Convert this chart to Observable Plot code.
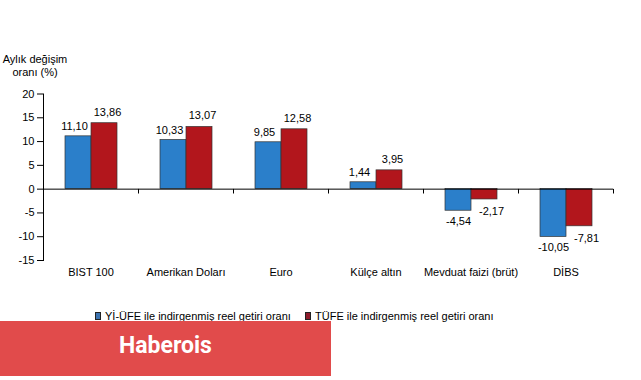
<!DOCTYPE html>
<html>
<head>
<meta charset="utf-8">
<script src="https://cdn.jsdelivr.net/npm/d3@7"></script>
<script src="https://cdn.jsdelivr.net/npm/@observablehq/plot@0.6"></script>
<style>
  html, body { margin: 0; padding: 0; background: #fff; }
  #wrap { position: relative; width: 641px; height: 380px; overflow: hidden; font-family: "Liberation Sans", Arial, sans-serif; }
  #wrap svg { position: absolute; left: 0; top: 0; }
  .title { position: absolute; left: 0; top: 53px; width: 70px; text-align: center; font-size: 11px; line-height: 13px; color: #000; }
  .legend { position: absolute; top: 310px; font-size: 11px; line-height: 13px; color: #000; white-space: nowrap; }
  .legend span.sw { display: inline-block; width: 4px; height: 6px; margin-right: 4px; vertical-align: 0px; border: 0.5px solid #222; }
  .banner { position: absolute; left: 0; top: 321px; width: 331px; height: 55px; background: #E14B4B; color: #fff; font-family: Roboto, "Liberation Sans", Arial, sans-serif; font-weight: bold; font-size: 23px; text-align: center; line-height: 50px; }
</style>
</head>
<body>
<div id="wrap"></div>
<script>
const categories = ["BIST 100", "Amerikan Doları", "Euro", "Külçe altın", "Mevduat faizi (brüt)", "DİBS"];
const seriesNames = ["Yİ-ÜFE ile indirgenmiş reel getiri oranı", "TÜFE ile indirgenmiş reel getiri oranı"];
const yiUfe = [11.10, 10.33, 9.85, 1.44, -4.54, -10.05];
const tufe = [13.86, 13.07, 12.58, 3.95, -2.17, -7.81];
const yTicks = [20, 15, 10, 5, 0, -5, -10, -15];
const colors = ["#2B7FCA", "#B2161C"];
const legendColors = ["#3C73B0", "#8E1B2B"];

const data = [];
categories.forEach((c, i) => {
  data.push({cat: c, series: seriesNames[0], value: yiUfe[i]});
  data.push({cat: c, series: seriesNames[1], value: tufe[i]});
});
const fmt = v => v.toFixed(2).replace(".", ",");
const isA = d => d.series === seriesNames[0];

const txt = (filter, dx, dy) => Plot.text(data.filter(filter), {
  fx: "cat", x: "series", y: "value", text: d => fmt(d.value), dx, dy, fill: "#000", fontSize: 11
});

const chart = Plot.plot({
  width: 641, height: 380,
  marginTop: 93.5, marginBottom: 120, marginLeft: 42, marginRight: 27,
  style: {fontFamily: "'Liberation Sans', Arial, sans-serif", fontSize: "11px", color: "#000", background: "transparent", overflow: "visible"},
  fx: {domain: categories, padding: 0, label: null, axis: "bottom", tickSize: 0, tickPadding: 8},
  x: {domain: seriesNames, paddingInner: 0, paddingOuter: 0.76, axis: null},
  y: {domain: [-15, 20], label: null, axis: null},
  color: {domain: seriesNames, range: colors},
  marks: [
    Plot.axisY({ticks: yTicks, tickSize: 6, tickPadding: 3, tickFormat: d => d < 0 ? "-" + (-d) : String(d), label: null, stroke: "#000"}),
    Plot.barY(data, {fx: "cat", x: "series", y: "value", fill: "series", stroke: "#333", strokeWidth: 0.7}),
    Plot.ruleY([0], {stroke: "#000", strokeWidth: 1}),
    Plot.frame({anchor: "left", fx: [categories[0]], stroke: "#000"}),
    Plot.frame({anchor: "right", insetTop: 95.4, insetBottom: 67.5, stroke: "#000"}),
    txt(d => isA(d) && d.value >= 0, -4, -10),
    txt(d => !isA(d) && d.value >= 0, 3, -11),
    txt(d => isA(d) && d.value < 0, 0, 11),
    txt(d => !isA(d) && d.value < 0, 7, 12)
  ]
});

const wrap = document.getElementById("wrap");
wrap.appendChild(chart);

const title = document.createElement("div");
title.className = "title";
title.innerHTML = "Aylık değişim<br>oranı (%)";
wrap.appendChild(title);

const lg1 = document.createElement("div");
lg1.className = "legend"; lg1.style.left = "95px";
lg1.innerHTML = `<span class="sw" style="background:${legendColors[0]}"></span>${seriesNames[0]}`;
wrap.appendChild(lg1);
const lg2 = document.createElement("div");
lg2.className = "legend"; lg2.style.left = "305px";
lg2.innerHTML = `<span class="sw" style="background:${legendColors[1]}"></span>${seriesNames[1]}`;
wrap.appendChild(lg2);

const banner = document.createElement("div");
banner.className = "banner";
banner.textContent = "Haberois";
wrap.appendChild(banner);
</script>
</body>
</html>
